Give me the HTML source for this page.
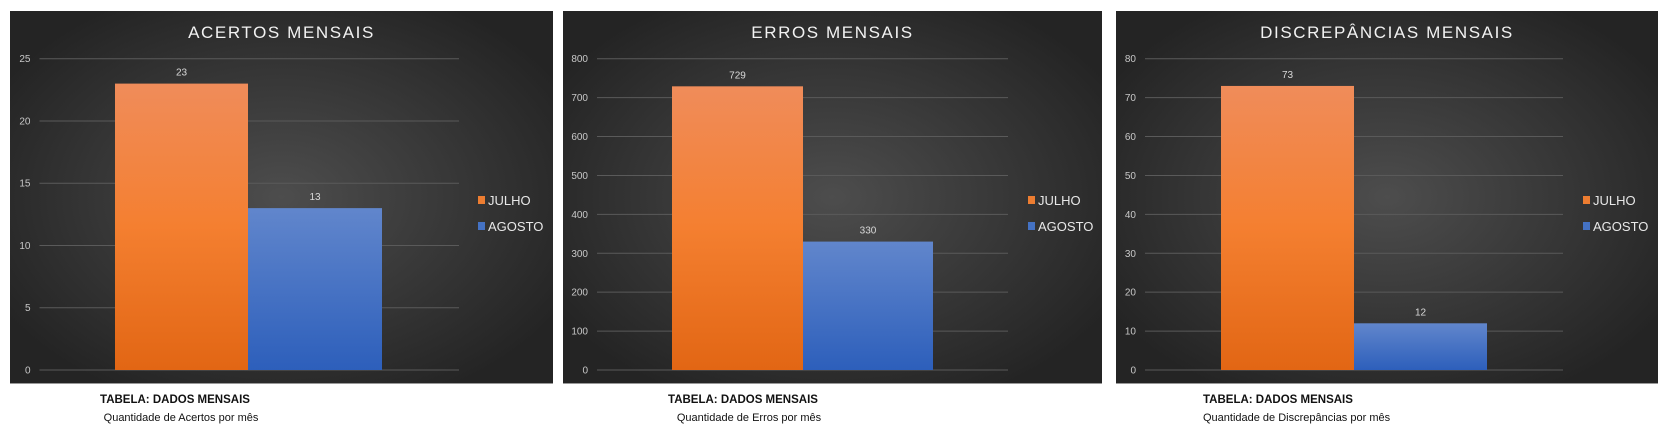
<!DOCTYPE html>
<html><head><meta charset="utf-8"><style>
html,body{margin:0;padding:0;background:#fff;width:1668px;height:443px;overflow:hidden;font-family:"Liberation Sans",sans-serif}
svg{position:absolute;left:0;top:0}
</style></head><body>
<svg id="c" width="1668" height="443">
<defs>
<radialGradient id="bg" cx="50%" cy="50%" r="60%"><stop offset="0" stop-color="#4d4d4d"/><stop offset="1" stop-color="#242424"/></radialGradient>
<linearGradient id="og" x1="0" y1="0" x2="0" y2="1"><stop offset="0" stop-color="#f08c5a"/><stop offset="0.5" stop-color="#f47f30"/><stop offset="1" stop-color="#e26614"/></linearGradient>
<linearGradient id="bgb" x1="0" y1="0" x2="0" y2="1"><stop offset="0" stop-color="#6186cc"/><stop offset="1" stop-color="#2d5fbb"/></linearGradient>
</defs>
</svg>
<script>
const titles = ["ACERTOS MENSAIS","ERROS MENSAIS","DISCREPÂNCIAS MENSAIS"];
const subtitles = ["Quantidade de Acertos por mês","Quantidade de Erros por mês","Quantidade de Discrepâncias por mês"];
const series = ["JULHO","AGOSTO"];
const julho = [23, 729, 73];
const agosto = [13, 330, 12];
const axisMax = [25, 800, 80];
const axisStep = [5, 100, 10];

const panels=[{x:10,w:543,gx0:39.5,gx1:459,b0:115,b1:248,b2:382,lx:478,cap:175,capAlign:'middle'},
{x:563,w:539,gx0:597,gx1:1008,b0:672,b1:803,b2:933,lx:1028,cap:743,capAlign:'middle'},
{x:1116,w:542,gx0:1145,gx1:1563,b0:1221,b1:1354,b2:1487,lx:1583,cap:1203,capAlign:'start'}];
const svgEl=document.getElementById('c');const NS='http://www.w3.org/2000/svg';
function mk(t,a,p,txt){const e=document.createElementNS(NS,t);for(const k in a)e.setAttribute(k,a[k]);if(txt!==undefined)e.textContent=txt;(p||svgEl).appendChild(e);return e;}
const yTop=58.7,yBot=370;
panels.forEach((p,i)=>{
  const g=mk('g',{});
  
  
  const bgr=mk('rect',{x:p.x,y:11,width:p.w,height:372,fill:'url(#bg)'},g);
  
  
  mk('line',{x1:p.x,x2:p.x+p.w,y1:383.5,y2:383.5,stroke:'#999','stroke-width':1},g);
  const t=mk('text',{x:p.x+p.w/2,y:38,'text-anchor':'middle',fill:'#f2f2f2','font-size':17,'letter-spacing':1.6},g,titles[i]);
  
  
  const max=axisMax[i];const yS=v=>yBot-(yBot-yTop)*v/max;
  for(let v=0;v<=max;v+=axisStep[i]){
    const gl=mk('line',{x1:p.gx0,x2:p.gx1,y1:yS(v),y2:yS(v),stroke:'#5a5a5a','stroke-width':1},g);
    
    
    const tl=mk('text',{x:p.gx0-9,y:yS(v)+3.5,'text-anchor':'end',fill:'#c8c8c8','font-size':10},g,String(v));
    
    
  }
  const vals=[julho[i],agosto[i]];const xs=[[p.b0,p.b1],[p.b1,p.b2]];const fills=['url(#og)','url(#bgb)'];
  vals.forEach((v,j)=>{
    const r=mk('rect',{x:xs[j][0],y:yS(v),width:xs[j][1]-xs[j][0],height:yBot-yS(v),fill:fills[j]},g);
    
    
    const l=mk('text',{x:(xs[j][0]+xs[j][1])/2,y:yS(v)-8,'text-anchor':'middle',fill:'#d9d9d9','font-size':10},g,String(v));
    
    
  });
  series.forEach((s,j)=>{
    const y=j?226:200;
    const sq=mk('rect',{x:p.lx,y:y-4,width:7,height:8,fill:j?'#4472c4':'#ed7d31'},g);
    
    
    const lt=mk('text',{x:p.lx+10,y:y+5,fill:'#e8e8e8','font-size':13},g,s);
    
    
  });
  const c1=mk('text',{x:p.cap,y:403,'text-anchor':p.capAlign,fill:'#111','font-size':11.5,'font-weight':'bold'},g,'TABELA: DADOS MENSAIS');
  
  
  const c2=mk('text',{x:p.capAlign==='middle'?p.cap+6:p.cap,y:421,'text-anchor':p.capAlign,fill:'#111','font-size':11},g,subtitles[i]);
  
  
});
</script>
</body></html>
